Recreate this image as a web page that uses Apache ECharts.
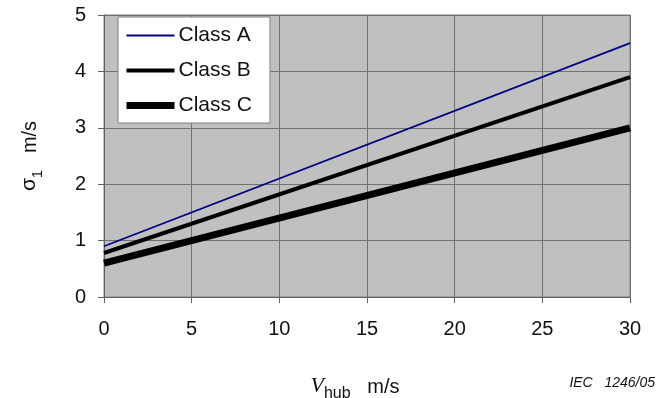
<!DOCTYPE html>
<html><head><meta charset="utf-8">
<script src="https://cdn.jsdelivr.net/npm/echarts@6/dist/echarts.min.js"></script>
<style>html,body{margin:0;padding:0;background:#fff}#c{width:667px;height:398px}</style>
</head><body><div id="c"></div>
<script>
const windSpeed = [0, 30];
const classA = [0.9, 4.5];
const classB = [0.78, 3.9];
const classC = [0.6, 3.0];
const seriesNames = ['Class A', 'Class B', 'Class C'];
const xTicks = [0, 5, 10, 15, 20, 25, 30];
const yTicks = [0, 1, 2, 3, 4, 5];

const F = '"Liberation Sans", Arial, sans-serif';
const lineColors = ['#000080', '#000', '#000'];
const lineWidths = [1.8, 4, 7];
const chart = echarts.init(document.getElementById('c'));
const pairs = v => windSpeed.map((x, i) => [x, v[i]]);
chart.setOption({
  animation: false,
  grid: {left: 104, right: 37, top: 15, bottom: 101, show: true, outerBoundsMode: 'none', containLabel: false,
    backgroundColor: '#c0c0c0', borderColor: '#808080', borderWidth: 1},
  legend: {
    orient: 'vertical', left: 118, top: 17,
    backgroundColor: '#fff', borderColor: '#808080', borderWidth: 1,
    padding: [8, 18, 7, 5], itemGap: 14, itemWidth: 48, itemHeight: 23,
    itemStyle: {color: 'transparent', borderWidth: 0, opacity: 0},
    textStyle: {fontFamily: F, fontSize: 21, color: '#111', padding: [0, 0, 0, -1]},
    data: seriesNames.map((n, i) => ({name: n, lineStyle: {width: lineWidths[i], color: lineColors[i]}}))
  },
  xAxis: {
    type: 'value', min: xTicks[0], max: xTicks[xTicks.length - 1], interval: 5,
    axisLine: {show: true, lineStyle: {color: '#606060', width: 1}},
    axisTick: {show: true, length: 6, lineStyle: {color: '#606060'}},
    splitLine: {show: true, lineStyle: {color: '#707070', width: 1}},
    axisLabel: {fontFamily: F, fontSize: 20, color: '#111', margin: 22},
    name: '{v|V}{s|hub}{u|   m/s}', nameLocation: 'middle', nameGap: 78,
    nameTextStyle: {rich: {
      v: {fontFamily: '"Liberation Serif", serif', fontStyle: 'italic', fontSize: 22, color: '#111', verticalAlign: 'bottom'},
      s: {fontFamily: F, fontSize: 16, color: '#111', verticalAlign: 'bottom', padding: [0, 0, -5, 0]},
      u: {fontFamily: F, fontSize: 20, color: '#111', verticalAlign: 'bottom'}
    }, padding: [0, 24, 0, 0]}
  },
  yAxis: {
    type: 'value', min: yTicks[0], max: yTicks[yTicks.length - 1], interval: 1,
    axisLine: {show: true, lineStyle: {color: '#606060', width: 1}},
    axisTick: {show: true, length: 6, lineStyle: {color: '#606060'}},
    splitLine: {show: true, lineStyle: {color: '#707070', width: 1}},
    axisLabel: {fontFamily: F, fontSize: 20, color: '#111', margin: 18},
    name: '{g|σ}{s|1}{u|   m/s}', nameLocation: 'middle', nameGap: 64, nameRotate: 90,
    nameTextStyle: {rich: {
      g: {fontFamily: F, fontSize: 21, color: '#111', verticalAlign: 'bottom'},
      s: {fontFamily: F, fontSize: 15, color: '#111', verticalAlign: 'bottom', padding: [0, 0, -5, 0]},
      u: {fontFamily: F, fontSize: 20, color: '#111', verticalAlign: 'bottom'}
    }}
  },
  series: [
    {name: seriesNames[0], type: 'line', data: pairs(classA), symbol: 'none', lineStyle: {color: lineColors[0], width: lineWidths[0]}, itemStyle: {color: lineColors[0]}},
    {name: seriesNames[1], type: 'line', data: pairs(classB), symbol: 'none', lineStyle: {color: lineColors[1], width: lineWidths[1]}, itemStyle: {color: lineColors[1]}},
    {name: seriesNames[2], type: 'line', data: pairs(classC), symbol: 'none', lineStyle: {color: lineColors[2], width: lineWidths[2]}, itemStyle: {color: lineColors[2]}}
  ],
  graphic: [{type: 'text', right: 12, top: 376, style: {text: 'IEC   1246/05', font: 'italic 14px ' + F, fill: '#111'}}]
});
</script></body></html>
